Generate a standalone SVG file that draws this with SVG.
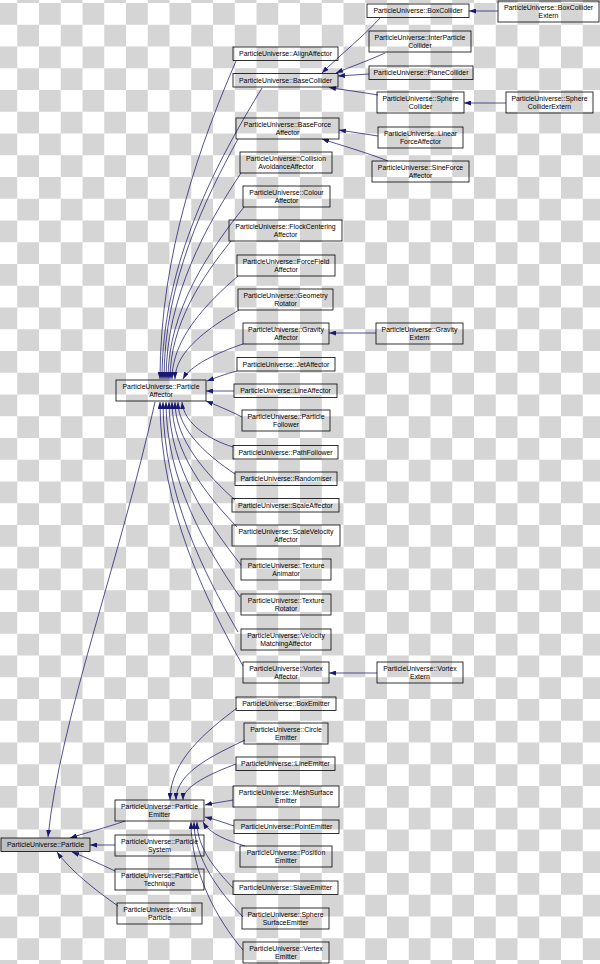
<svg xmlns="http://www.w3.org/2000/svg" width="600" height="964" viewBox="0 0 600 964">
<style>
.n rect{fill:none;stroke:#000;stroke-width:0.8}
.n rect.root{fill:#bfbfbf}
.n text{font-family:"Liberation Sans",Arial,sans-serif;font-size:6.9px;fill:#000;text-anchor:middle}
.e path{fill:none;stroke:#191970;stroke-width:0.75;marker-end:url(#ah)}
</style>
<defs>
<pattern id="chk" patternUnits="userSpaceOnUse" x="-4.5" y="-18.75" width="43.5" height="43.5">
<rect width="43.5" height="43.5" fill="#fff"/>
<rect x="21.75" y="0" width="21.75" height="21.75" fill="#d5d5d5"/>
<rect x="0" y="21.75" width="21.75" height="21.75" fill="#d5d5d5"/>
</pattern>
<marker id="ah" markerUnits="userSpaceOnUse" viewBox="0 0 7 5" refX="7" refY="2.5" markerWidth="7" markerHeight="5" orient="auto">
<path d="M0,0 L7,2.5 L0,5 z" fill="#191970"/>
</marker>
</defs>
<rect width="600" height="964" fill="url(#chk)"/>

<g id="edges" class="e">
<path d="M498,11 L469,11"/>
<path d="M380,18 C365,35 340,55 322,73"/>
<path d="M385,53 C370,60 350,67 336,73"/>
<path d="M369,74 L338,76"/>
<path d="M378,95 C360,92 345,90 329,87.5"/>
<path d="M506,103 L464,103"/>
<path d="M378,136 L339,130"/>
<path d="M388,161 C365,152 340,145 322,139"/>
<path d="M376,333 L329,333"/>
<path d="M377,673 L329,673"/>
<!-- affector children -->
<path d="M236,61 C202,140 160,252 160,379"/>
<path d="M262,88 C218,160 162,262 162,379"/>
<path d="M238,139 C205,199 164,283 164,379"/>
<path d="M241,173 C207,224 166,297 166,379"/>
<path d="M244,207 C210,250 168,310 168,379"/>
<path d="M231,241 C203,276 170,324 170,379"/>
<path d="M238,276 C208,302 172,338 172,379"/>
<path d="M239,310 C210,327 175,351 175,379"/>
<path d="M243,344 C216,353 190,366 183,379"/>
<path d="M237,371 C225,374 215,378 207,381"/>
<path d="M234,391 L206,391"/>
<path d="M242,417 C228,410 216,405 206,401"/>
<path d="M233,447 C210,440 184,424 182,402"/>
<path d="M235,474 C208,456 178,430 178,402"/>
<path d="M235,500 C207,475 175,440 175,402"/>
<path d="M237,527 C207,496 172,452 172,402"/>
<path d="M241,565 C209,524 169,468 169,402"/>
<path d="M240,597 C206,548 166,480 166,402"/>
<path d="M238,632 C204,573 163,494 163,402"/>
<path d="M243,666 C206,600 160,508 160,402"/>
<!-- emitter children -->
<path d="M237,708 C207,731 170,760 170,800"/>
<path d="M245,740 C214,755 176,772 176,800"/>
<path d="M236,764 C212,773 183,786 183,800"/>
<path d="M233,800 C222,802 214,803 205,805"/>
<path d="M234,826 C222,822 214,819 205,817"/>
<path d="M245,846 C226,840 210,834 203,822"/>
<path d="M233,888 C217,871 197,849 197,822"/>
<path d="M243,917 C221,893 194,860 194,822"/>
<path d="M243,950 C218,921 191,873 191,822"/>
<!-- particle children -->
<path d="M155,402 C120,560 60,720 48,837"/>
<path d="M125,821 C105,828 85,833 70,838"/>
<path d="M115,845 L90,845"/>
<path d="M115,871 C100,864 85,857 72,852"/>
<path d="M118,906 C95,890 70,870 57,852"/>
</g>

<g id="n_boxcol" class="n"><rect x="367" y="4" width="102" height="13.5"/><text x="418" y="13.3">ParticleUniverse::BoxCollider</text></g>
<g id="n_boxcolext" class="n"><rect x="498" y="1" width="101" height="21"/><text x="548.5" y="10">ParticleUniverse::BoxCollider</text><text x="548.5" y="17.5">Extern</text></g>
<g id="n_interpart" class="n"><rect x="369" y="31" width="102" height="21"/><text x="420" y="40">ParticleUniverse::InterParticle</text><text x="420" y="47.5">Collider</text></g>
<g id="n_planecol" class="n"><rect x="369" y="66" width="104" height="13.5"/><text x="421" y="75.3">ParticleUniverse::PlaneCollider</text></g>
<g id="n_spherecol" class="n"><rect x="377" y="92" width="87" height="21"/><text x="420.5" y="101">ParticleUniverse::Sphere</text><text x="420.5" y="108.5">Collider</text></g>
<g id="n_spherecolext" class="n"><rect x="506" y="92" width="87" height="21"/><text x="549.5" y="101">ParticleUniverse::Sphere</text><text x="549.5" y="108.5">ColliderExtern</text></g>
<g id="n_linearforce" class="n"><rect x="378" y="127" width="85" height="21"/><text x="420.5" y="136">ParticleUniverse::Linear</text><text x="420.5" y="143.5">ForceAffector</text></g>
<g id="n_sineforce" class="n"><rect x="372" y="161" width="97" height="21"/><text x="420.5" y="170">ParticleUniverse::SineForce</text><text x="420.5" y="177.5">Affector</text></g>
<g id="n_align" class="n"><rect x="233" y="47" width="105" height="13.5"/><text x="285.5" y="56.3">ParticleUniverse::AlignAffector</text></g>
<g id="n_basecol" class="n"><rect x="233" y="73.5" width="105" height="13.5"/><text x="285.5" y="82.8">ParticleUniverse::BaseCollider</text></g>
<g id="n_baseforce" class="n"><rect x="236" y="118" width="103" height="21"/><text x="287.5" y="127">ParticleUniverse::BaseForce</text><text x="287.5" y="134.5">Affector</text></g>
<g id="n_collision" class="n"><rect x="240" y="152" width="92" height="21"/><text x="286" y="161">ParticleUniverse::Collision</text><text x="286" y="168.5">AvoidanceAffector</text></g>
<g id="n_colour" class="n"><rect x="243" y="186" width="87" height="21"/><text x="286.5" y="195">ParticleUniverse::Colour</text><text x="286.5" y="202.5">Affector</text></g>
<g id="n_flock" class="n"><rect x="229" y="220" width="113" height="21"/><text x="285.5" y="229">ParticleUniverse::FlockCentering</text><text x="285.5" y="236.5">Affector</text></g>
<g id="n_forcefield" class="n"><rect x="237" y="255" width="98" height="21"/><text x="286" y="264">ParticleUniverse::ForceField</text><text x="286" y="271.5">Affector</text></g>
<g id="n_geometry" class="n"><rect x="238" y="289" width="95" height="21"/><text x="285.5" y="298">ParticleUniverse::Geometry</text><text x="285.5" y="305.5">Rotator</text></g>
<g id="n_gravity" class="n"><rect x="243" y="323" width="86" height="21"/><text x="286" y="332">ParticleUniverse::Gravity</text><text x="286" y="339.5">Affector</text></g>
<g id="n_gravityext" class="n"><rect x="376" y="323" width="87" height="21"/><text x="419.5" y="332">ParticleUniverse::Gravity</text><text x="419.5" y="339.5">Extern</text></g>
<g id="n_jet" class="n"><rect x="237" y="357.5" width="98" height="13.5"/><text x="286" y="366.8">ParticleUniverse::JetAffector</text></g>
<g id="n_paffector" class="n"><rect x="116" y="380" width="90" height="21"/><text x="161" y="389">ParticleUniverse::Particle</text><text x="161" y="396.5">Affector</text></g>
<g id="n_line" class="n"><rect x="234" y="384" width="103" height="13.5"/><text x="285.5" y="393.3">ParticleUniverse::LineAffector</text></g>
<g id="n_pfollower" class="n"><rect x="242" y="410" width="88" height="21"/><text x="286" y="419">ParticleUniverse::Particle</text><text x="286" y="426.5">Follower</text></g>
<g id="n_path" class="n"><rect x="233" y="445.5" width="105" height="13.5"/><text x="285.5" y="454.8">ParticleUniverse::PathFollower</text></g>
<g id="n_random" class="n"><rect x="235" y="472" width="102" height="13.5"/><text x="286" y="481.3">ParticleUniverse::Randomiser</text></g>
<g id="n_scale" class="n"><rect x="232" y="498.5" width="107" height="13.5"/><text x="285.5" y="507.8">ParticleUniverse::ScaleAffector</text></g>
<g id="n_scalevel" class="n"><rect x="232" y="525" width="108" height="21"/><text x="286" y="534">ParticleUniverse::ScaleVelocity</text><text x="286" y="541.5">Affector</text></g>
<g id="n_texanim" class="n"><rect x="241" y="559" width="90" height="21"/><text x="286" y="568">ParticleUniverse::Texture</text><text x="286" y="575.5">Animator</text></g>
<g id="n_texrot" class="n"><rect x="241" y="594" width="90" height="21"/><text x="286" y="603">ParticleUniverse::Texture</text><text x="286" y="610.5">Rotator</text></g>
<g id="n_velmatch" class="n"><rect x="241" y="629" width="90" height="21"/><text x="286" y="638">ParticleUniverse::Velocity</text><text x="286" y="645.5">MatchingAffector</text></g>
<g id="n_vortex" class="n"><rect x="243" y="662" width="86" height="21"/><text x="286" y="671">ParticleUniverse::Vortex</text><text x="286" y="678.5">Affector</text></g>
<g id="n_vortexext" class="n"><rect x="377" y="662" width="86" height="21"/><text x="420" y="671">ParticleUniverse::Vortex</text><text x="420" y="678.5">Extern</text></g>
<g id="n_boxemit" class="n"><rect x="236" y="697" width="100" height="13.5"/><text x="286" y="706.3">ParticleUniverse::BoxEmitter</text></g>
<g id="n_circle" class="n"><rect x="244" y="723" width="84" height="21"/><text x="286" y="732">ParticleUniverse::Circle</text><text x="286" y="739.5">Emitter</text></g>
<g id="n_lineemit" class="n"><rect x="236" y="757" width="99" height="13.5"/><text x="285.5" y="766.3">ParticleUniverse::LineEmitter</text></g>
<g id="n_mesh" class="n"><rect x="233" y="786" width="106" height="21"/><text x="286" y="795">ParticleUniverse::MeshSurface</text><text x="286" y="802.5">Emitter</text></g>
<g id="n_point" class="n"><rect x="234" y="820" width="105" height="13.5"/><text x="286.5" y="829.3">ParticleUniverse::PointEmitter</text></g>
<g id="n_position" class="n"><rect x="240" y="846" width="92" height="21"/><text x="286" y="855">ParticleUniverse::Position</text><text x="286" y="862.5">Emitter</text></g>
<g id="n_slave" class="n"><rect x="233" y="881" width="105" height="13.5"/><text x="285.5" y="890.3">ParticleUniverse::SlaveEmitter</text></g>
<g id="n_spheresurf" class="n"><rect x="242" y="908" width="87" height="21"/><text x="285.5" y="917">ParticleUniverse::Sphere</text><text x="285.5" y="924.5">SurfaceEmitter</text></g>
<g id="n_vertex" class="n"><rect x="243" y="942" width="86" height="21"/><text x="286" y="951">ParticleUniverse::Vertex</text><text x="286" y="958.5">Emitter</text></g>
<g id="n_pemitter" class="n"><rect x="115" y="800" width="89" height="21"/><text x="159.5" y="809">ParticleUniverse::Particle</text><text x="159.5" y="816.5">Emitter</text></g>
<g id="n_particle" class="n"><rect class="root" x="1" y="838" width="89" height="13.5"/><text x="45.5" y="847.3">ParticleUniverse::Particle</text></g>
<g id="n_psystem" class="n"><rect x="115" y="835" width="89" height="21"/><text x="159.5" y="844">ParticleUniverse::Particle</text><text x="159.5" y="851.5">System</text></g>
<g id="n_ptech" class="n"><rect x="115" y="869" width="89" height="21"/><text x="159.5" y="878">ParticleUniverse::Particle</text><text x="159.5" y="885.5">Technique</text></g>
<g id="n_visual" class="n"><rect x="117" y="903" width="85" height="21"/><text x="159.5" y="912">ParticleUniverse::Visual</text><text x="159.5" y="919.5">Particle</text></g>
</svg>
